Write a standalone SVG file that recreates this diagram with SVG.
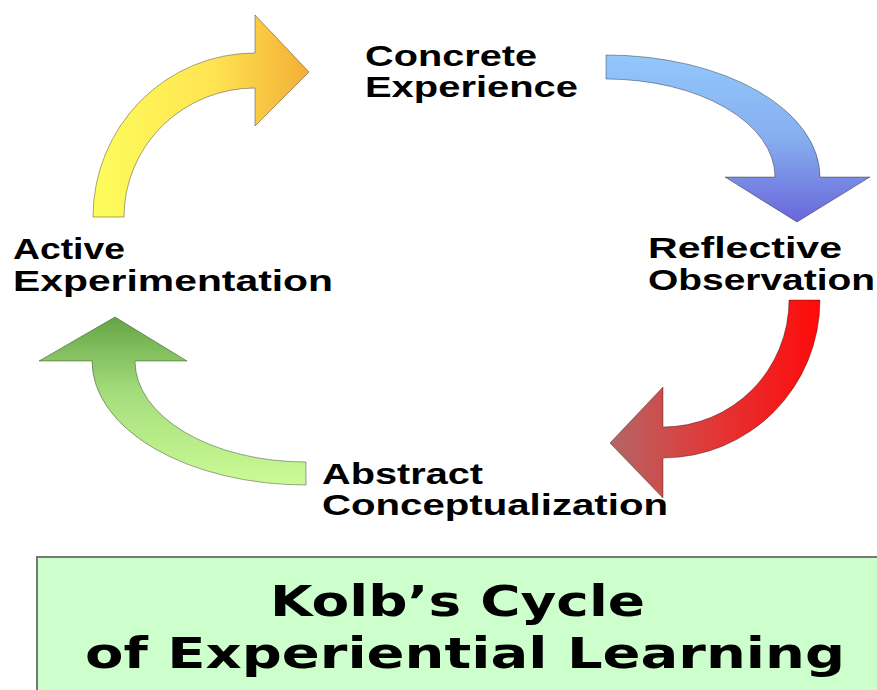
<svg xmlns="http://www.w3.org/2000/svg" width="877" height="690" viewBox="0 0 877 690">
  <defs>
    <linearGradient id="gYellow" x1="0" y1="0" x2="1" y2="0">
      <stop offset="0" stop-color="#fdfd5c"/>
      <stop offset="0.55" stop-color="#ffe452"/>
      <stop offset="1" stop-color="#f3ae35"/>
    </linearGradient>
    <linearGradient id="gBlue" x1="0" y1="0" x2="0" y2="1">
      <stop offset="0" stop-color="#92c8fb"/>
      <stop offset="0.5" stop-color="#86aef0"/>
      <stop offset="1" stop-color="#6a66da"/>
    </linearGradient>
    <linearGradient id="gRed" x1="0" y1="0" x2="1" y2="0">
      <stop offset="0" stop-color="#b36665"/>
      <stop offset="0.45" stop-color="#e03a3a"/>
      <stop offset="1" stop-color="#ff0a0a"/>
    </linearGradient>
    <linearGradient id="gGreen" x1="0" y1="0" x2="0" y2="1">
      <stop offset="0" stop-color="#65a545"/>
      <stop offset="0.45" stop-color="#a4dd7c"/>
      <stop offset="1" stop-color="#cbfb95"/>
    </linearGradient>
  </defs>
  <style>
    .arrow { stroke: #000; stroke-opacity: 0.35; stroke-width: 1; }
    .lbl { font-family: "Liberation Sans", Arial, sans-serif; font-weight: bold; font-size: 30px; fill: #000; }
    .title { font-family: "DejaVu Sans", Verdana, sans-serif; font-weight: bold; font-size: 42px; fill: #000; }
  </style>
  <rect width="877" height="690" fill="#ffffff"/>

  <g id="connectors">
    <path id="arrow-ae-ce" class="arrow" fill="url(#gYellow)" d="M93,217 A162,164 0 0 1 255,53 L255,15 L309,72 L255,126 L255,88 A131,129 0 0 0 124,217 Z"/>
    <path id="arrow-ce-ro" class="arrow" fill="url(#gBlue)" d="M606,55 A214,122 0 0 1 820,177 L870,177 L797,222 L725,177 L775,177 A169,98 0 0 0 606,79 Z"/>
    <path id="arrow-ro-ac" class="arrow" fill="url(#gRed)" d="M789,300 A126,127 0 0 1 663,427 L663,387 L610,443 L663,498 L663,458 A157,158 0 0 0 820,300 Z"/>
    <path id="arrow-ac-ae" class="arrow" fill="url(#gGreen)" d="M306,462 A171,101 0 0 1 135,361 L187,361 L115,317 L39,361 L92,361 A214,124 0 0 0 306,485 Z"/>
  </g>

  <g id="concrete-experience">
    <text class="lbl" x="365" y="66" textLength="172" lengthAdjust="spacingAndGlyphs">Concrete</text>
    <text class="lbl" x="365" y="97" textLength="213" lengthAdjust="spacingAndGlyphs">Experience</text>
  </g>
  <g id="reflective-observation">
    <text class="lbl" x="648" y="258" textLength="194" lengthAdjust="spacingAndGlyphs">Reflective</text>
    <text class="lbl" x="648" y="290" textLength="227" lengthAdjust="spacingAndGlyphs">Observation</text>
  </g>
  <g id="active-experimentation">
    <text class="lbl" x="13" y="259" textLength="112" lengthAdjust="spacingAndGlyphs">Active</text>
    <text class="lbl" x="13" y="291" textLength="320" lengthAdjust="spacingAndGlyphs">Experimentation</text>
  </g>
  <g id="abstract-conceptualization">
    <text class="lbl" x="322" y="484" textLength="161" lengthAdjust="spacingAndGlyphs">Abstract</text>
    <text class="lbl" x="322" y="515" textLength="346" lengthAdjust="spacingAndGlyphs">Conceptualization</text>
  </g>

  <g id="title-box">
    <rect x="37" y="557" width="860" height="160" fill="#ccffcc" stroke="#777777" stroke-width="2"/>
    <text class="title" x="270" y="616" textLength="375" lengthAdjust="spacingAndGlyphs">Kolb’s Cycle</text>
    <text class="title" x="85" y="668" textLength="760" lengthAdjust="spacingAndGlyphs">of Experiential Learning</text>
  </g>
</svg>
